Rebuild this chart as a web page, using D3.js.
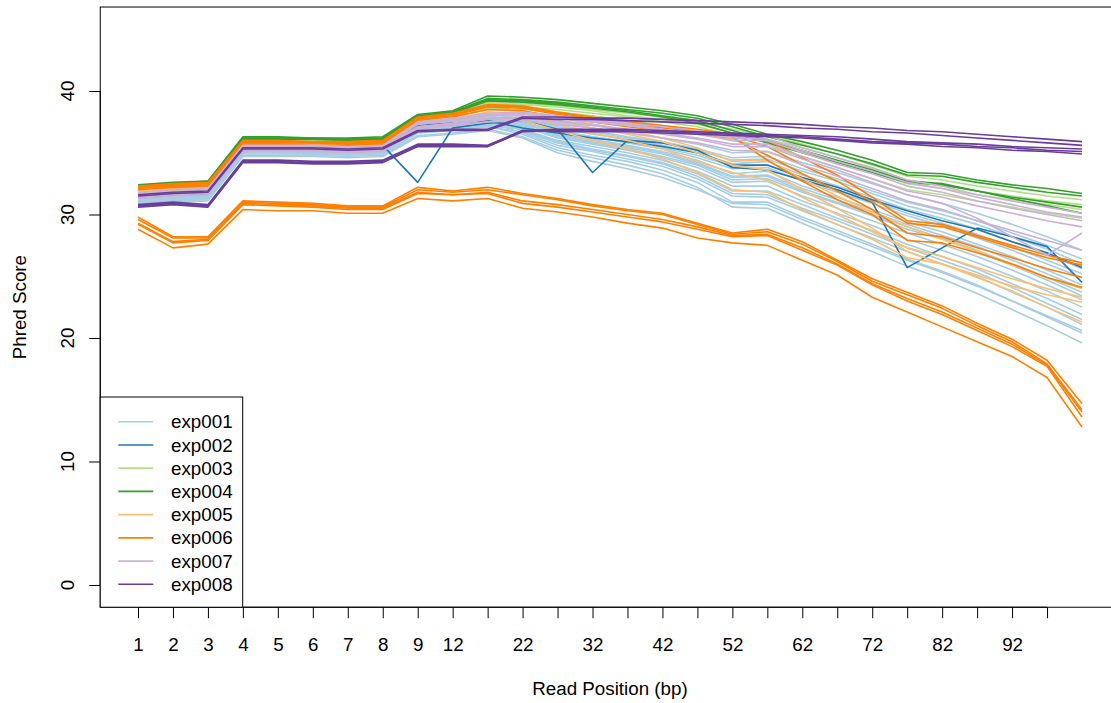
<!DOCTYPE html>
<html><head><meta charset="utf-8">
<script src="https://cdn.jsdelivr.net/npm/d3@7"></script>
<style>body{margin:0;background:#fff} text{font-family:"Liberation Sans",Arial,Helvetica,sans-serif;fill:#000}</style>
</head><body><svg id="c" width="1111" height="703"></svg>
<script>
// ---- data ----
const positions = ["1","2","3","4","5","6","7","8","9","12","17","22","27","32","37","42","47","52","57","62","67","72","77","82","87","92","97","101"];
const xTickLabels = ["1","2","3","4","5","6","7","8","9","12","","22","","32","","42","","52","","62","","72","","82","","92",""];
const yTicks = [0,10,20,30,40];
const experiments = ["exp001","exp002","exp003","exp004","exp005","exp006","exp007","exp008"];
const colors = ["#a6cee3","#1f78b4","#b2df8a","#33a02c","#fdbf6f","#ff7f00","#cab2d6","#6a3d9a"];

const exp001 = [
 [31.8,32.0,32.1,35.8,35.8,35.7,35.7,35.8,37.6,37.8,38.1,37.8,37.4,37.0,36.6,36.2,35.7,35.0,35.1,34.2,33.4,32.5,31.6,30.9,30.1,29.2,28.2,27.1],
 [31.6,31.9,32.0,35.6,35.6,35.6,35.5,35.6,37.4,37.6,37.9,37.7,37.2,36.8,36.3,35.9,35.3,34.6,34.7,33.7,32.9,31.9,31.0,30.3,29.5,28.5,27.5,26.4],
 [31.5,31.7,31.8,35.5,35.5,35.4,35.4,35.5,37.2,37.5,37.8,37.5,37.0,36.5,36.1,35.6,35.0,34.1,34.3,33.2,32.3,31.4,30.4,29.7,28.8,27.8,26.8,25.6],
 [31.4,31.6,31.7,35.4,35.4,35.3,35.3,35.4,37.1,37.3,37.6,37.4,36.7,36.3,35.8,35.3,34.6,33.7,33.8,32.7,31.8,30.9,29.9,29.1,28.1,27.1,26.0,24.9],
 [31.3,31.5,31.6,35.3,35.3,35.2,35.2,35.3,37.0,37.2,37.5,37.3,36.6,36.1,35.6,35.1,34.4,33.3,33.5,32.3,31.4,30.4,29.4,28.6,27.6,26.6,25.5,24.3],
 [31.2,31.4,31.5,35.2,35.2,35.1,35.1,35.2,36.9,37.1,37.4,37.2,36.4,35.9,35.4,34.9,34.1,33.0,33.1,31.9,31.0,30.0,29.0,28.1,27.1,26.0,24.9,23.7],
 [31.1,31.3,31.4,35.1,35.1,35.0,35.0,35.1,36.8,37.0,37.3,37.1,36.2,35.7,35.2,34.6,33.8,32.6,32.7,31.5,30.5,29.5,28.5,27.6,26.6,25.5,24.3,23.1],
 [31.0,31.2,31.3,35.0,35.0,34.9,34.9,35.0,36.7,36.9,37.2,36.9,36.0,35.5,35.0,34.4,33.5,32.3,32.3,31.1,30.1,29.1,28.0,27.1,26.1,25.0,23.8,22.5],
 [31.6,31.8,31.9,35.5,35.5,35.5,35.4,35.5,37.3,37.4,37.7,36.8,35.9,35.3,34.8,34.2,33.3,31.9,31.9,30.8,29.7,28.7,27.6,26.6,25.6,24.4,23.2,21.9],
 [31.3,31.6,31.6,35.3,35.4,35.3,35.2,35.3,37.0,37.3,37.5,36.6,35.6,35.1,34.5,33.9,32.9,31.5,31.4,30.3,29.2,28.1,27.0,26.0,25.0,23.7,22.5,21.1],
 [31.1,31.3,31.4,35.0,35.0,34.9,34.9,35.0,36.6,36.9,37.1,36.5,35.4,34.8,34.3,33.6,32.6,31.0,31.0,29.8,28.7,27.6,26.4,25.4,24.3,23.0,21.7,20.4],
 [30.9,31.1,31.2,34.8,34.8,34.8,34.7,34.8,36.4,36.6,36.9,36.3,35.2,34.6,34.0,33.3,32.2,30.6,30.5,29.3,28.1,27.0,25.8,24.8,23.6,22.3,21.0,19.6],
 [31.7,31.9,32.0,35.7,35.7,35.6,35.6,35.7,37.5,37.7,38.0,37.6,37.1,36.7,36.2,35.8,35.2,34.4,34.5,33.5,32.7,31.7,30.7,30.0,29.2,28.2,27.2,26.0],
 [31.2,31.4,31.5,35.2,35.2,35.1,35.1,35.2,36.9,37.1,37.4,37.0,36.3,35.8,35.3,34.7,34.0,32.8,32.9,31.8,30.9,29.9,28.8,28.0,27.0,25.9,24.7,23.4],
 [31.0,31.2,31.3,34.9,34.9,34.9,34.8,34.9,36.6,36.8,37.1,36.7,35.8,35.2,34.7,34.1,33.1,31.7,31.6,30.5,29.5,28.4,27.3,26.3,25.3,24.1,22.8,21.5],
 [31.4,31.6,31.7,35.3,35.3,35.3,35.2,35.3,37.1,37.3,37.6,37.3,36.5,36.0,35.5,35.0,34.2,33.1,33.2,32.1,31.2,30.2,29.2,28.3,27.4,26.3,25.2,24.0],
 [30.8,31.0,31.1,34.7,34.7,34.7,34.6,34.7,36.3,36.5,36.8,36.2,35.0,34.3,33.7,33.0,32.0,30.9,30.8,29.6,28.5,27.4,26.3,25.3,24.2,23.0,21.8,20.6],
 [31.5,31.7,31.8,35.4,35.4,35.4,35.3,35.4,37.2,37.4,37.7,37.4,36.8,36.3,35.9,35.4,34.8,33.9,34.0,32.9,32.0,31.1,30.1,29.3,28.4,27.4,26.3,25.2]
];
const exp002 = [
 [31.4,31.6,31.7,35.4,35.4,35.3,35.3,35.6,32.6,37.0,37.4,37.6,36.9,33.4,36.0,35.8,35.2,33.8,33.6,32.8,32.0,31.0,25.7,27.3,28.9,28.2,27.4,24.5],
 [31.5,31.7,31.8,35.5,35.5,35.4,35.4,35.5,37.2,37.4,37.6,37.0,36.6,36.2,35.9,35.5,35.0,34.0,34.0,33.0,32.2,31.2,30.3,29.5,28.8,27.8,26.9,25.7]
];
const exp003 = [
 [32.3,32.5,32.6,36.1,36.1,36.0,36.0,36.1,37.9,38.2,39.1,39.0,38.8,38.5,38.2,37.9,37.5,36.9,36.4,35.7,34.9,34.0,33.1,32.8,32.3,31.9,31.5,31.2],
 [32.1,32.3,32.4,35.9,35.9,35.8,35.8,35.9,37.7,38.0,38.8,38.7,38.5,38.2,37.9,37.5,37.1,36.4,35.9,35.1,34.3,33.4,32.5,32.1,31.6,31.2,30.8,30.4],
 [32.0,32.2,32.3,35.8,35.8,35.7,35.7,35.8,37.6,37.8,38.6,38.5,38.3,38.0,37.6,37.2,36.8,36.0,35.5,34.7,33.8,32.9,32.0,31.6,31.1,30.6,30.1,29.7],
 [32.2,32.4,32.5,36.0,36.0,35.9,35.9,36.0,37.8,38.1,39.0,38.9,38.7,38.4,38.0,37.7,37.3,36.6,36.1,35.4,34.6,33.7,32.8,32.4,31.9,31.5,31.1,30.8]
];
const exp004 = [
 [32.4,32.6,32.7,36.3,36.3,36.2,36.2,36.3,38.1,38.4,39.6,39.5,39.3,39.0,38.7,38.4,38.0,37.3,36.5,35.9,35.2,34.4,33.4,33.3,32.8,32.4,32.1,31.7],
 [32.3,32.5,32.7,36.2,36.2,36.2,36.1,36.2,38.0,38.3,39.4,39.3,39.1,38.8,38.5,38.2,37.8,37.1,36.3,35.6,34.9,34.1,33.2,33.1,32.6,32.2,31.8,31.5],
 [32.2,32.4,32.6,36.1,36.1,36.1,36.0,36.1,37.9,38.2,39.2,39.1,38.9,38.6,38.3,37.9,37.4,36.6,35.8,35.0,34.2,33.4,32.6,32.4,31.9,31.4,31.0,30.6],
 [32.3,32.5,32.6,36.2,36.2,36.1,36.1,36.2,38.0,38.3,39.3,39.2,39.0,38.7,38.4,38.0,37.6,36.8,36.0,35.2,34.4,33.6,32.7,32.5,31.9,31.3,30.7,30.1]
];
const exp005 = [
 [31.9,32.1,32.2,35.9,35.9,35.8,35.8,35.9,37.6,37.9,38.5,38.4,37.9,37.3,36.8,36.2,35.4,34.3,34.4,32.9,31.5,30.2,29.0,28.0,27.0,25.9,24.9,24.0],
 [31.7,31.9,32.0,35.6,35.6,35.6,35.5,35.6,37.4,37.6,38.1,38.0,37.3,36.6,36.0,35.3,34.3,33.4,32.8,31.4,30.0,28.6,27.3,26.6,25.7,24.8,24.0,23.3],
 [31.5,31.7,31.8,35.4,35.4,35.3,35.3,35.4,37.1,37.3,37.8,37.6,36.8,36.0,35.3,34.5,33.4,32.0,31.8,30.4,29.2,28.0,26.5,26.0,25.1,24.2,23.5,22.9],
 [31.8,32.0,32.1,35.7,35.7,35.7,35.6,35.7,37.5,37.7,38.3,38.2,37.6,37.0,36.5,35.9,35.0,34.0,33.6,32.0,30.5,28.9,27.0,26.0,24.9,23.8,22.5,21.3]
];
const exp006 = [
 [32.3,32.5,32.6,36.0,36.0,35.9,35.9,36.0,37.9,38.2,38.9,38.8,38.3,37.9,37.5,37.2,36.9,36.5,36.0,34.6,33.2,31.4,29.5,29.2,28.3,27.5,26.7,26.1],
 [32.1,32.3,32.4,35.8,35.8,35.8,35.7,35.8,37.7,38.0,38.7,38.6,38.1,37.7,37.3,37.0,36.7,36.4,35.5,34.0,32.7,31.0,29.3,29.0,28.2,27.3,26.5,25.9],
 [32.0,32.2,32.3,35.7,35.7,35.6,35.6,35.7,37.6,37.9,38.5,38.4,37.9,37.5,37.1,36.8,36.5,36.2,34.8,33.3,31.9,30.4,28.5,28.2,27.3,26.5,25.6,24.9],
 [32.2,32.4,32.5,35.9,35.9,35.8,35.8,35.9,37.8,38.1,38.8,38.7,38.2,37.8,37.4,37.1,36.8,36.3,34.4,32.7,31.2,30.0,27.9,27.7,26.9,26.0,24.9,24.1],
 [29.8,28.2,28.2,31.1,31.0,30.9,30.7,30.7,32.2,31.9,32.2,31.7,31.3,30.8,30.4,30.1,29.3,28.5,28.8,27.8,26.3,24.8,23.7,22.6,21.2,19.9,18.2,14.7],
 [29.6,28.1,28.1,31.0,30.9,30.8,30.6,30.6,32.0,31.8,32.0,31.6,31.2,30.7,30.3,30.0,29.2,28.4,28.6,27.6,26.2,24.6,23.5,22.4,21.0,19.7,17.9,14.2],
 [29.2,27.7,27.9,30.8,30.7,30.6,30.4,30.4,31.7,31.6,31.7,30.9,30.6,30.2,29.8,29.4,28.8,28.2,28.3,27.1,25.9,24.3,23.0,21.9,20.6,19.3,17.7,13.6],
 [29.3,27.8,28.0,30.9,30.8,30.7,30.5,30.5,31.8,31.6,31.8,31.1,30.8,30.4,30.0,29.6,29.0,28.3,28.4,27.3,26.0,24.4,23.2,22.1,20.8,19.5,17.8,14.0],
 [28.8,27.3,27.6,30.4,30.3,30.3,30.1,30.1,31.3,31.1,31.3,30.5,30.2,29.8,29.3,28.9,28.1,27.7,27.5,26.3,25.1,23.3,22.1,20.9,19.7,18.5,16.8,12.8]
];
const exp007 = [
 [31.8,32.0,32.1,35.6,35.6,35.6,35.5,35.6,37.5,37.8,38.2,38.3,38.0,37.7,37.4,37.1,36.8,36.3,36.4,35.4,34.6,33.8,32.8,32.3,31.6,31.1,30.6,30.1],
 [31.6,31.8,31.9,35.4,35.4,35.4,35.3,35.4,37.3,37.6,38.0,38.1,37.8,37.5,37.2,36.8,36.5,36.0,36.0,35.0,34.1,33.3,32.3,31.8,31.1,30.5,30.0,29.5],
 [31.5,31.7,31.8,35.3,35.3,35.3,35.2,35.3,37.1,37.4,37.8,37.9,37.6,37.3,36.9,36.6,36.2,35.7,35.7,34.7,33.8,32.9,31.9,31.4,30.7,30.1,29.5,29.0],
 [31.7,31.9,32.0,35.5,35.5,35.5,35.4,35.5,37.4,37.7,38.1,38.2,37.9,37.6,37.3,36.9,36.6,36.2,36.1,35.2,34.3,33.5,32.6,32.1,31.4,30.8,30.2,29.8],
 [31.4,31.6,31.7,35.2,35.2,35.2,35.1,35.2,37.0,37.3,37.7,37.8,37.5,37.2,36.8,36.5,36.1,35.5,35.5,34.5,33.6,32.6,31.6,30.9,29.7,28.2,26.7,28.5],
 [31.3,31.5,31.6,35.1,35.1,35.1,35.0,35.1,36.9,37.2,37.5,37.6,37.3,37.0,36.6,36.2,35.8,35.2,35.1,34.0,33.1,32.1,31.1,30.4,29.5,28.7,27.9,27.1]
];
const exp008 = [
 [31.6,31.8,31.9,35.4,35.4,35.4,35.3,35.4,36.8,36.9,36.9,37.9,37.9,37.8,37.8,37.7,37.6,37.5,37.4,37.3,37.1,37.0,36.8,36.7,36.5,36.3,36.1,35.9],
 [31.5,31.7,31.8,35.3,35.3,35.3,35.2,35.3,36.7,36.8,36.8,37.8,37.7,37.7,37.6,37.5,37.4,37.3,37.2,37.0,36.9,36.7,36.6,36.4,36.2,36.0,35.8,35.6],
 [30.8,31.0,30.8,34.4,34.4,34.3,34.3,34.4,35.7,35.7,35.6,36.8,36.9,36.9,36.9,36.8,36.7,36.6,36.5,36.4,36.3,36.1,35.9,35.8,35.7,35.5,35.4,35.3],
 [30.7,30.9,30.7,34.3,34.3,34.2,34.2,34.3,35.6,35.6,35.5,36.7,36.8,36.8,36.8,36.7,36.6,36.5,36.4,36.3,36.1,35.9,35.8,35.7,35.5,35.4,35.2,35.1],
 [30.6,30.8,30.6,34.2,34.2,34.1,34.1,34.2,35.5,35.5,35.5,36.8,36.7,36.7,36.7,36.6,36.5,36.4,36.3,36.2,36.0,35.8,35.7,35.5,35.4,35.2,35.1,34.9]
];
const series = [exp001, exp002, exp003, exp004, exp005, exp006, exp007, exp008];

// ---- layout ----
const svg = d3.select("#c");
const FS = 18.8;
const LW = 1.6;
const idx = d3.range(1, positions.length + 1);
const x = d3.scaleLinear().domain([1, positions.length]).range([138, 1082]);
const y = d3.scaleLinear().domain([0, 40]).range([585, 91]);
const ext = 0.04 * (positions.length - 1);
const X0 = x(1 - ext), X1 = x(positions.length + ext);
const Y0 = y(-0.04 * 45), Y1 = y(45 + 0.04 * 45);

svg.append("rect").attr("width", 1111).attr("height", 703).attr("fill", "#fff");
svg.append("clipPath").attr("id", "clip").append("rect")
  .attr("x", X0).attr("y", Y1).attr("width", X1 - X0).attr("height", Y0 - Y1);

const line = d3.line().x((d, i) => x(idx[i])).y(d => y(d));
const g = svg.append("g").attr("clip-path", "url(#clip)");
series.forEach((grp, k) => {
  grp.forEach(s => {
    g.append("path").attr("d", line(s)).attr("fill", "none")
      .attr("stroke", colors[k]).attr("stroke-width", LW).attr("stroke-linejoin", "round");
  });
});

// box
svg.append("rect").attr("x", X0).attr("y", Y1).attr("width", X1 - X0).attr("height", Y0 - Y1)
  .attr("fill", "none").attr("stroke", "#000").attr("stroke-width", 1);

// x axis
const xa = d3.axisBottom(x).tickValues(idx.slice(0, xTickLabels.length))
  .tickFormat((d, i) => xTickLabels[i]).tickSize(11).tickPadding(19);
const gx = svg.append("g").attr("transform", `translate(0,${Y0})`).call(xa);
gx.select(".domain").remove();
gx.append("line").attr("x1", x(1)).attr("x2", x(xTickLabels.length)).attr("y1", 0).attr("y2", 0).attr("stroke", "#000");
gx.selectAll("text").attr("font-size", FS).attr("font-family", "Liberation Sans, Arial, sans-serif").attr("fill", "#000");
gx.selectAll(".tick line").attr("stroke", "#000");

// y axis
const ya = d3.axisLeft(y).tickValues(yTicks).tickSize(11).tickFormat("");
const gy = svg.append("g").attr("transform", `translate(${X0},0)`).call(ya);
gy.select(".domain").remove();
gy.append("line").attr("x1", 0).attr("x2", 0).attr("y1", y(yTicks[0])).attr("y2", y(yTicks[yTicks.length - 1])).attr("stroke", "#000");
gy.selectAll(".tick line").attr("stroke", "#000");
yTicks.forEach(v => {
  svg.append("text").attr("transform", `translate(74,${y(v)}) rotate(-90)`)
    .attr("text-anchor", "middle").attr("font-size", FS).text(v);
});

// titles
svg.append("text").attr("x", (X0 + X1) / 2).attr("y", 695).attr("text-anchor", "middle")
  .attr("font-size", FS).text("Read Position (bp)");
svg.append("text").attr("transform", `translate(26,${(Y0 + Y1) / 2}) rotate(-90)`)
  .attr("text-anchor", "middle").attr("font-size", FS).text("Phred Score");

// legend
const lg = svg.append("g");
lg.append("rect").attr("x", X0).attr("y", 397).attr("width", 242.7 - X0).attr("height", Y0 - 397)
  .attr("fill", "#fff").attr("stroke", "#000");
experiments.forEach((e, i) => {
  const ly = 421.7 + i * 23.23;
  lg.append("line").attr("x1", 118.3).attr("x2", 153.3).attr("y1", ly).attr("y2", ly)
    .attr("stroke", colors[i]).attr("stroke-width", LW);
  lg.append("text").attr("x", 171).attr("y", ly + 6.6).attr("font-size", FS).text(e);
});
</script></body></html>
